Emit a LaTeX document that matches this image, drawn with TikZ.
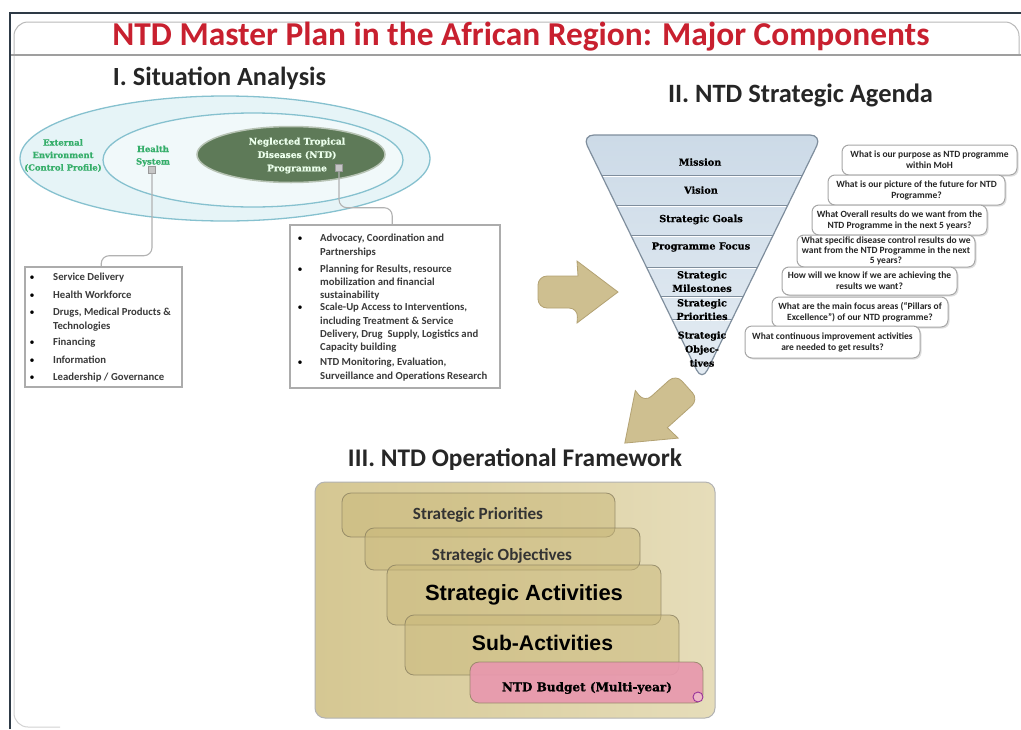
\documentclass[tikz,border=0pt]{standalone}
\usepackage{fontspec}
\setmainfont{Carlito}
\newfontfamily\dvserif{DejaVu Serif}
\newfontfamily\dvserifheavy{DejaVu Serif}[BoldFeatures={FakeBold=0.8}]
\newfontfamily\lsans{Liberation Sans}
\usetikzlibrary{shapes.geometric,shadows,calc}
\definecolor{titlered}{HTML}{C8202F}
\definecolor{headgray}{HTML}{262626}
\definecolor{txtgray}{HTML}{3A3A3A}
\definecolor{framedark}{HTML}{2E3A46}
\definecolor{ringline}{HTML}{86C1CF}
\definecolor{ringfill}{HTML}{E6F4F7}
\definecolor{ringfillin}{HTML}{F1F9FA}
\definecolor{ntdgreen}{HTML}{5E7A58}
\definecolor{lblgreen}{HTML}{35AE6A}
\definecolor{pyrtop}{HTML}{CCDAE7}
\definecolor{pyrbot}{HTML}{E4ECF3}
\definecolor{pyrline}{HTML}{7F8E9D}
\definecolor{tan}{HTML}{CEBF90}
\definecolor{tanline}{HTML}{B3A273}
\definecolor{opleft}{HTML}{D5C792}
\definecolor{opright}{HTML}{E6DDBA}
\definecolor{opinner}{HTML}{C9B87A}
\definecolor{opline}{HTML}{8A8060}
\definecolor{budget}{HTML}{E898AE}
\newcommand{\fitw}[2]{\resizebox{#1}{!}{#2}}
\begin{document}
\begin{tikzpicture}[x=1pt,y=-1pt,
  heading/.style={inner sep=0pt, text=headgray, font=\bfseries},
  ringlbl/.style={text=lblgreen, align=center, font=\dvserifheavy\bfseries\fontsize{8.4}{12.5}\selectfont},
  sqmark/.style={draw=gray!80, fill=gray!45, minimum size=7pt, inner sep=0pt},
  conn/.style={draw=gray!60, line width=1.1pt, rounded corners=8pt},
  listbox/.style={draw=gray!65, line width=1.6pt, fill=white, inner sep=0pt},
  listtxt/.style={anchor=west, inner sep=0pt, text=txtgray, text height=7.5pt, text depth=2pt, font=\bfseries\fontsize{10.7}{12}\selectfont},
  bul/.style={anchor=center, inner sep=0pt, text=black, font=\fontsize{10}{11}\selectfont},
  pyrlbl/.style={align=center, inner sep=0pt, text=black, font=\dvserifheavy\bfseries\fontsize{9.7}{13.5}\selectfont},
  qbox/.style={draw=gray!70, line width=1pt, fill=white, rounded corners=7pt, align=center, inner sep=0pt,
     drop shadow={shadow xshift=1.5pt, shadow yshift=-1.5pt, opacity=0.25},
     text=black!85, font=\bfseries\fontsize{9.5}{11}\selectfont},
  tanarrow/.style={fill=tan, draw=tanline, line width=0.8pt},
  opinbox/.style={fill=opinner, fill opacity=0.5, draw=opline, draw opacity=0.8, line width=0.8pt, rounded corners=9pt},
  optxt/.style={inner sep=0pt, text=black!80, font=\bfseries}
]
\useasboundingbox (0,0) rectangle (1021,729);
\fill[white] (0,0) rectangle (1021,729);

% ---------- frame ----------
\draw[gray!55, line width=1pt, rounded corners=14pt] (14,55) -- (14,22) -- (1019,22) -- (1019,55);
\draw[gray!35, line width=1pt, rounded corners=14pt] (14,55) -- (14,727) -- (60,727);
\draw[gray!75, line width=1.5pt] (10,55) -- (1021,55);
\draw[framedark, line width=2pt] (10,729) -- (10,13) -- (1021,13);

% ---------- headings ----------
\node[heading, text=titlered] (title) at (521,37) {\fitw{817pt}{NTD Master Plan in the African Region: Major Components}};
\node[heading] (h1) at (219.5,78) {\fitw{213pt}{I. Situation Analysis}};
\node[heading] (h2) at (800.5,95) {\fitw{265pt}{II. NTD Strategic Agenda}};
\node[heading] (h3) at (515,460) {\fitw{334pt}{III. NTD Operational Framework}};

% ---------- I. Situation analysis ----------
\node[ellipse, draw=ringline, line width=1.3pt, fill=ringfill, minimum width=410pt, minimum height=125pt] (outer) at (225,158.5) {};
\node[ellipse, draw=ringline, line width=1.3pt, fill=ringfillin, minimum width=300pt, minimum height=94pt] (inner) at (253,160) {};
\node[ellipse, draw=ntdgreen!45!white, line width=1.5pt, fill=ntdgreen, minimum width=188pt, minimum height=56pt] (ntd) at (291,154.5) {};
\node[align=center, text=white!92!green, font=\dvserifheavy\bfseries\fontsize{9.1}{13.4}\selectfont] (ntdlbl) at (297,155.5) {Neglected Tropical\\Diseases (NTD)\\Programme};
\node[ringlbl] (extlbl) at (63,155.5) {External\\Environment\\(Control Profile)};
\node[ringlbl] (hslbl) at (153,156) {Health\\System};
\node[sqmark] (hsq) at (152,170) {};
\node[sqmark] (nsq) at (339,168) {};

\node[listbox, minimum width=157pt, minimum height=120pt] (lbox) at (103.5,327) {};
\node[listbox, minimum width=210pt, minimum height=163pt] (rbox) at (395,306.5) {};
\draw[conn] (hsq.south) -- ++(0,82) -| ([xshift=77pt]lbox.north west);
\draw[conn] (nsq.south) -- ++(0,36) -| ([xshift=103pt]rbox.north west);

\foreach \yy/\tt in {278/{Service Delivery}, 296/{Health Workforce}, 313/{Drugs, Medical Products \&}, 343/{Financing}, 361/{Information}, 378/{Leadership / Governance}}{
  \node[bul] at (32,\yy) {\textbullet};
  \node[listtxt] at (53,\yy) {\tt};
}
\node[listtxt] (ltech) at (53,327) {Technologies};

\foreach \yy in {239,270,308,363}{ \node[bul] at (300,\yy) {\textbullet}; }
\foreach \yy/\tt in {239/{Advocacy, Coordination and}, 253/{Partnerships}, 270/{Planning for Results, resource}, 283/{mobilization and financial}, 296/{sustainability}, 308/{Scale-Up Access to Interventions,}, 322/{including Treatment \& Service}, 335/{Delivery, Drug\ \ Supply, Logistics and}, 348/{Capacity building}, 363/{NTD Monitoring, Evaluation,}, 377/{Surveillance and Operations Research}}{
  \node[listtxt] at (320,\yy) {\tt};
}

% ---------- II. Strategic agenda ----------
\path[shading=axis, top color=pyrtop, bottom color=pyrbot, rounded corners=12pt] (582,135) -- (822,135) -- (702,381) -- cycle;
\begin{scope}
  \clip[rounded corners=12pt] (582,135) -- (822,135) -- (702,381) -- cycle;
  \foreach \yy in {175,205,235,267,296,319}{
    \draw[white, line width=1.6pt] (570,\yy+1.2) -- (830,\yy+1.2);
    \draw[pyrline, line width=0.9pt] (570,\yy) -- (830,\yy);
  }
\end{scope}
\draw[pyrline, line width=1.2pt, rounded corners=12pt] (582,135) -- (822,135) -- (702,381) -- cycle;
\node[pyrlbl] (mission) at (700,162) {Mission};
\node[pyrlbl] (vision) at (701,190) {Vision};
\node[pyrlbl] (goals) at (701,219.5) {Strategic Goals};
\node[pyrlbl] (focus) at (701,247) {Programme Focus};
\node[pyrlbl] (miles) at (702,281.5) {Strategic\\Milestones};
\node[pyrlbl] (prio) at (702,309.5) {Strategic\\Priorities};
\node[pyrlbl, font=\dvserifheavy\bfseries\fontsize{9.4}{14}\selectfont] (obj) at (702,349) {Strategic\\Objec-\\tives};

\node[qbox, minimum width=175pt, minimum height=30pt] (q1) at (929.5,160) {What is our purpose as NTD programme\\within MoH};
\node[qbox, minimum width=177pt, minimum height=30pt] (q2) at (916.5,190) {What is our picture of the future for NTD\\Programme?};
\node[qbox, minimum width=175pt, minimum height=30pt] (q3) at (899.5,220) {What Overall results do we want from the\\NTD Programme in the next 5 years?};
\node[qbox, minimum width=178pt, minimum height=32pt, font=\bfseries\fontsize{9.5}{10}\selectfont] (q4) at (886,251) {What specific disease control results do we\\want from the NTD Programme in the next\\5 years?};
\node[qbox, minimum width=175pt, minimum height=28pt] (q5) at (869.5,281) {How will we know if we are achieving the\\results we want?};
\node[qbox, minimum width=176pt, minimum height=30pt] (q6) at (860,312) {What are the main focus areas (``Pillars of\\Excellence'') of our NTD programme?};
\node[qbox, minimum width=175pt, minimum height=32pt] (q7) at (832.5,342) {What continuous improvement activities\\are needed to get results?};

% ---------- arrows ----------
\begin{scope}[shift={(578,292)}]
  \path[tanarrow, rounded corners=9pt] (0,-16) -- (-40,-16) -- (-40,16) -- (0,16) [sharp corners] -- (-1,31) -- (40,0) -- (-1,-31) -- cycle;
\end{scope}
\begin{scope}[shift={(656,415)}, rotate=222]
  \path[tanarrow, rounded corners=9pt] (0,-17) -- (-42,-17) -- (-42,17) -- (0,17) [sharp corners] -- (-1,32) -- (42,0) -- (-1,-32) -- cycle;
\end{scope}

% ---------- III. Operational framework ----------
\node[shading=axis, left color=opleft, right color=opright, draw=gray!60, line width=1pt, rounded corners=10pt, minimum width=400pt, minimum height=236pt] (opf) at (515,600) {};
\node[opinbox, minimum width=273pt, minimum height=44pt] (bsp) at (478.5,515) {};
\node[opinbox, minimum width=275pt, minimum height=42pt] (bso) at (502.5,549) {};
\node[opinbox, minimum width=274pt, minimum height=60pt] (bsa) at (524,595) {};
\node[opinbox, minimum width=274pt, minimum height=60pt] (bsub) at (542,645) {};
\node[fill=budget, fill opacity=0.92, draw=opline, draw opacity=0.8, line width=0.8pt, rounded corners=9pt, minimum width=233pt, minimum height=41pt] (bbud) at (586.5,682.5) {};
\draw[draw=violet!80, fill=budget!70!white, line width=0.9pt] (698,697) ellipse [x radius=5, y radius=5];
\node[optxt] (tsp) at (478,515) {\fitw{130pt}{Strategic Priorities}};
\node[optxt] (tso) at (502,556) {\fitw{140pt}{Strategic Objectives}};
\node[optxt, text=black] (tsa) at (524,595) {\fitw{198pt}{\lsans\bfseries Strategic Activities}};
\node[optxt, text=black] (tsub) at (542.5,643) {\fitw{141pt}{\lsans\bfseries Sub-Activities}};
\node[optxt, text=black] (tbud) at (587,688) {\fitw{170pt}{\dvserifheavy\bfseries NTD Budget (Multi-year)}};
\end{tikzpicture}
\end{document}
